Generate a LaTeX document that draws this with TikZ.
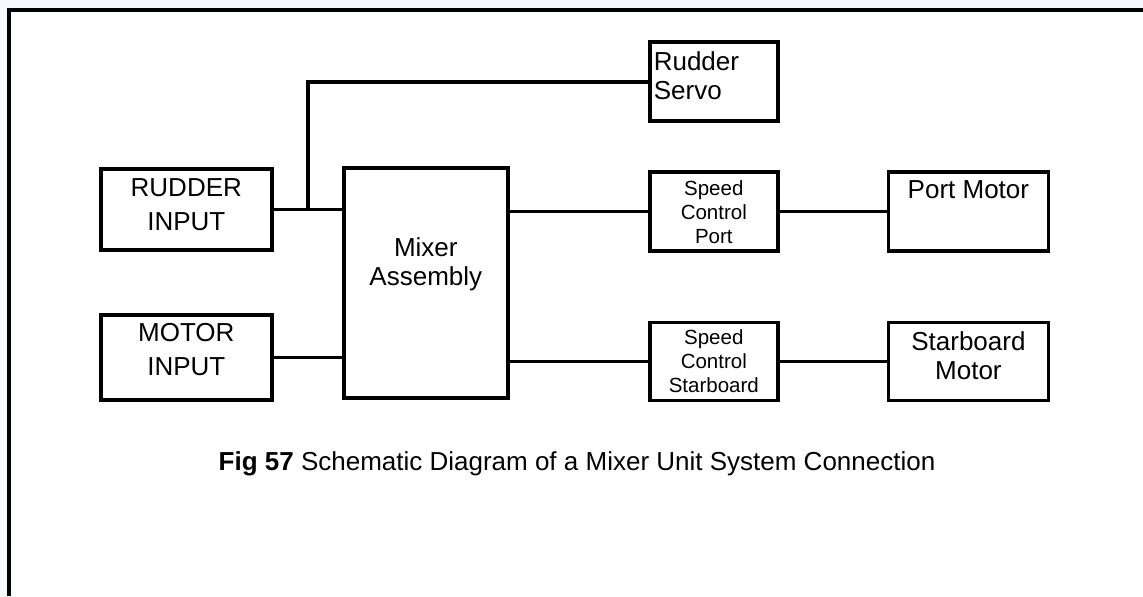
\documentclass[tikz,border=0pt]{standalone}
\usepackage{fontspec}
\setmainfont{Liberation Sans}
\usetikzlibrary{positioning,calc}
\definecolor{MXpage}{RGB}{245,249,253}
\tikzstyle{ubox}  = [rectangle, draw, line width=1.8pt, inner xsep=0pt,
                     inner ysep=0pt, align=center,
                     font=\fontsize{13}{14.5}\selectfont]
\tikzstyle{Binp}  = [ubox, minimum width=85.5pt,
                     font=\fontsize{13}{17}\selectfont]
\tikzstyle{Bspd}  = [ubox, minimum width=64pt,
                     font=\fontsize{10.25}{12}\selectfont]
\tikzstyle{Bmot}  = [ubox, minimum width=80pt]
\tikzstyle{wire}  = [line width=1.8pt]

\begin{document}
\begin{tikzpicture}[x=0.5pt, y=-0.5pt, node distance=53.5pt]
  \useasboundingbox (0,0) rectangle (1143,596);
  \fill[MXpage] (0,0) rectangle (1143,596);
  \fill[white] (9,10) rectangle (1143,596);
  \draw[line width=2pt] (9,596) -- (9,10) -- (1143,10);

  \node[Binp, anchor=north west, text height=31pt, text depth=9.5pt]
       (rin)  at (99,167) {RUDDER\\INPUT};
  \node[Binp, anchor=north west, text height=30.5pt, text depth=12pt]
       (minp) at (99,313) {MOTOR\\INPUT};
  \node[ubox, anchor=north west, minimum width=82pt,
        text height=59pt, text depth=56pt]
       (mix)  at (342,166) {Mixer\\Assembly};
  \node[Bspd, anchor=north west, text height=36pt, text depth=3.5pt]
       (scport) at (648,170) {Speed\\Control\\Port};
  \node[Bspd, below=34pt of scport, text height=35pt, text depth=4pt]
       (scstar) {Speed\\Control\\Starboard};
  \node[ubox, above=23.5pt of scport, text width=60pt, inner xsep=2pt,
        align=left, text height=14.3pt, text depth=25.2pt]
       (rservo) {Rudder\\Servo};
  \node[Bmot, right=of scport, text height=13.5pt, text depth=26pt]
       (pmot) {Port Motor};
  \node[Bmot, right=of scstar, text height=28.5pt, text depth=10.5pt]
       (smot) {Starboard\\Motor};

  \coordinate (jct) at ($(rin.east)!0.5!(rin.east -| mix.west)$);
  \draw[wire] (rin.east) -- (rin.east -| mix.west);
  \draw[wire] (jct) |- (rservo.west);
  \draw[wire] (minp.east) -- (minp.east -| mix.west);
  \draw[wire] (scport.west -| mix.east) -- (scport.west);
  \draw[wire] (scport) -- (pmot);
  \draw[wire] (scstar.west -| mix.east) -- (scstar.west);
  \draw[wire] (scstar.east) -- (scstar.east -| smot.west);

  \node[anchor=base, font=\fontsize{13}{15}\selectfont] (cap) at (577,470.7)
       {\textbf{Fig 57} Schematic Diagram of a Mixer Unit System Connection};
\end{tikzpicture}
\end{document}
